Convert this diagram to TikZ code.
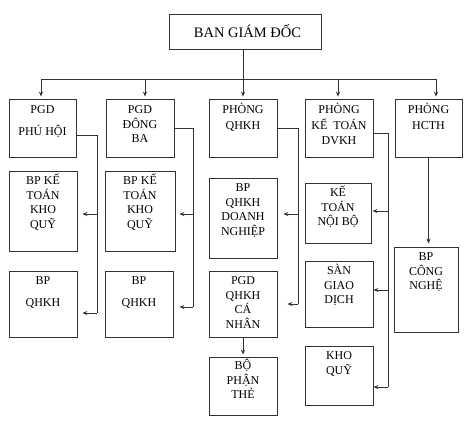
\documentclass[tikz,border=0pt]{standalone}
\usepackage{fontspec}
\setmainfont{Liberation Serif}
\usetikzlibrary{arrows.meta}
\newcommand\tstrut{\rule{0pt}{12pt}}
\newcommand\bx[5]{\node[box, minimum width={(#4-#2)*1pt}, minimum height={(#5-#3)*1pt}] (#1) at ({(#2+#4)/2},{(#3+#5)/2}) {};}
\begin{document}
\begin{tikzpicture}[x=1pt,y=-1pt,
  box/.style={draw=black!80, line width=0.8pt, inner sep=0pt},
  txt/.style={anchor=north, align=center, inner sep=0pt, font=\fontsize{12}{14.5}\selectfont, text=black},
  line/.style={draw=black!80, line width=0.8pt},
  arr/.style={line, -{Stealth[length=5pt,width=4pt]}}]
\fill[white] (0,0) rectangle (476,424);
\useasboundingbox (0,0) rectangle (476,424);
% boxes
\bx{top}{169}{14}{321}{49}
\bx{b1}{9}{99}{76}{157}
\bx{b2}{106}{99}{174}{157}
\bx{b3}{209}{99}{277}{157}
\bx{b4}{305}{99}{373}{157}
\bx{b5}{395}{99}{462}{157}
\bx{c1a}{9}{171}{77}{251}
\bx{c1b}{9}{271}{77}{337}
\bx{c2a}{105}{171}{175}{251}
\bx{c2b}{105}{271}{173}{337}
\bx{c3a}{209}{178}{277}{258}
\bx{c3b}{209}{271}{277}{337}
\bx{c3c}{209}{357}{277}{415}
\bx{c4a}{305}{183}{371}{243}
\bx{c4b}{305}{261}{373}{327}
\bx{c4c}{305}{346}{373}{405}
\bx{c5}{394}{247}{458}{332}
% texts
\node[txt, anchor=base, font=\fontsize{14.5}{16}\selectfont] (ttop) at ([xshift=2.5pt,yshift=-6pt]top.center) {BAN GIÁM ĐỐC};
\node[txt] (tb1) at ([yshift=-3pt]b1.north) {\tstrut PGD\\[7.5pt]PHÚ HỘI};
\node[txt] (tb2) at ([yshift=-3pt]b2.north) {\tstrut PGD\\ĐÔNG\\BA};
\node[txt] (tb3) at ([yshift=-3pt]b3.north) {\tstrut PHÒNG\\[1.5pt]QHKH};
\node[txt] (tb4) at ([yshift=-3pt]b4.north) {\tstrut PHÒNG\\[1pt]KẾ\ \ TOÁN\\[1pt]DVKH};
\node[txt] (tb5) at ([yshift=-3pt]b5.north) {\tstrut PHÒNG\\[1.5pt]HCTH};
\node[txt] (tc1a) at ([yshift=-2pt]c1a.north) {\tstrut BP KẾ\\TOÁN\\KHO\\QUỸ};
\node[txt] (tc1b) at ([yshift=-2pt]c1b.north) {\tstrut BP\\[7.5pt]QHKH};
\node[txt] (tc2a) at ([yshift=-2pt]c2a.north) {\tstrut BP KẾ\\TOÁN\\KHO\\QUỸ};
\node[txt] (tc2b) at ([yshift=-2pt]c2b.north) {\tstrut BP\\[7.5pt]QHKH};
\node[txt] (tc3a) at ([yshift=-2pt]c3a.north) {\tstrut BP\\QHKH\\DOANH\\NGHIỆP};
\node[txt] (tc3b) at ([yshift=-2pt]c3b.north) {\tstrut PGD\\QHKH\\CÁ\\NHÂN};
\node[txt] (tc3c) at ([yshift=-1pt]c3c.north) {\tstrut BỘ\\PHẬN\\THẺ};
\node[txt] (tc4a) at ([yshift=-2pt]c4a.north) {\tstrut KẾ\\TOÁN\\NỘI BỘ};
\node[txt] (tc4b) at ([yshift=-2pt]c4b.north) {\tstrut SÀN\\GIAO\\DỊCH};
\node[txt] (tc4c) at ([yshift=-2pt]c4c.north) {\tstrut KHO\\QUỸ};
\node[txt] (tc5) at ([yshift=-2pt]c5.north) {\tstrut BP\\CÔNG\\NGHỆ};
% top bus
\coordinate (bus) at (0,79);
\coordinate (a0) at ([xshift=-2pt]top.south);
\coordinate (a1) at ([xshift=-1.5pt]b1.north);
\coordinate (a2) at ([xshift=5pt]b2.north);
\coordinate (a3) at (b3.north);
\coordinate (a4) at ([xshift=-1pt]b4.north);
\coordinate (a5) at ([xshift=7.5pt]b5.north);
\draw[line] (a0) -- (a0 |- bus);
\draw[line] (a1 |- bus) -- (a5 |- bus);
\foreach \a in {a1,a2,a3,a4,a5}{
  \draw[arr, shorten >=2pt] (\a |- bus) -- (\a);
}
% column 1
\coordinate (j1) at (97,135);
\coordinate (k1) at (97,313);
\draw[line] (b1.east |- j1) -- (j1) -- (k1);
\draw[arr, shorten >=5pt] (k1) -- (c1b.east |- k1);
\draw[arr, shorten >=5pt] (j1 |- 0,214) -- (c1a.east |- 0,214);
% column 2
\coordinate (j2) at (193,128);
\coordinate (k2) at (193,307);
\draw[line] (b2.east |- j2) -- (j2) -- (k2);
\draw[arr, shorten >=6pt] (k2) -- (c2b.east |- k2);
\draw[arr, shorten >=4pt] (j2 |- 0,214) -- (c2a.east |- 0,214);
% column 3
\coordinate (j3) at (298,128);
\coordinate (k3) at (298,304);
\draw[line] (b3.east |- j3) -- (j3) -- (k3);
\draw[arr, shorten >=10pt] (k3) -- (c3b.east |- k3);
\draw[arr, shorten >=6pt] (j3 |- 0,214) -- (c3a.east |- 0,214);
\draw[arr, shorten >=2pt] (c3b.south) -- (c3c.north);
% column 4
\coordinate (j4) at (388,133);
\coordinate (k4) at (388,387);
\draw[line] (b4.east |- j4) -- (j4) -- (k4);
\draw[arr] (k4) -- (c4c.east |- k4);
\draw[arr] (j4 |- 0,290) -- (c4b.east |- 0,290);
\draw[arr, shorten >=1pt] (j4 |- 0,211) -- (c4a.east |- 0,211);
% column 5
\draw[arr, shorten >=3pt] (b5.south) -- (b5.south |- c5.north);
\end{tikzpicture}
\end{document}
